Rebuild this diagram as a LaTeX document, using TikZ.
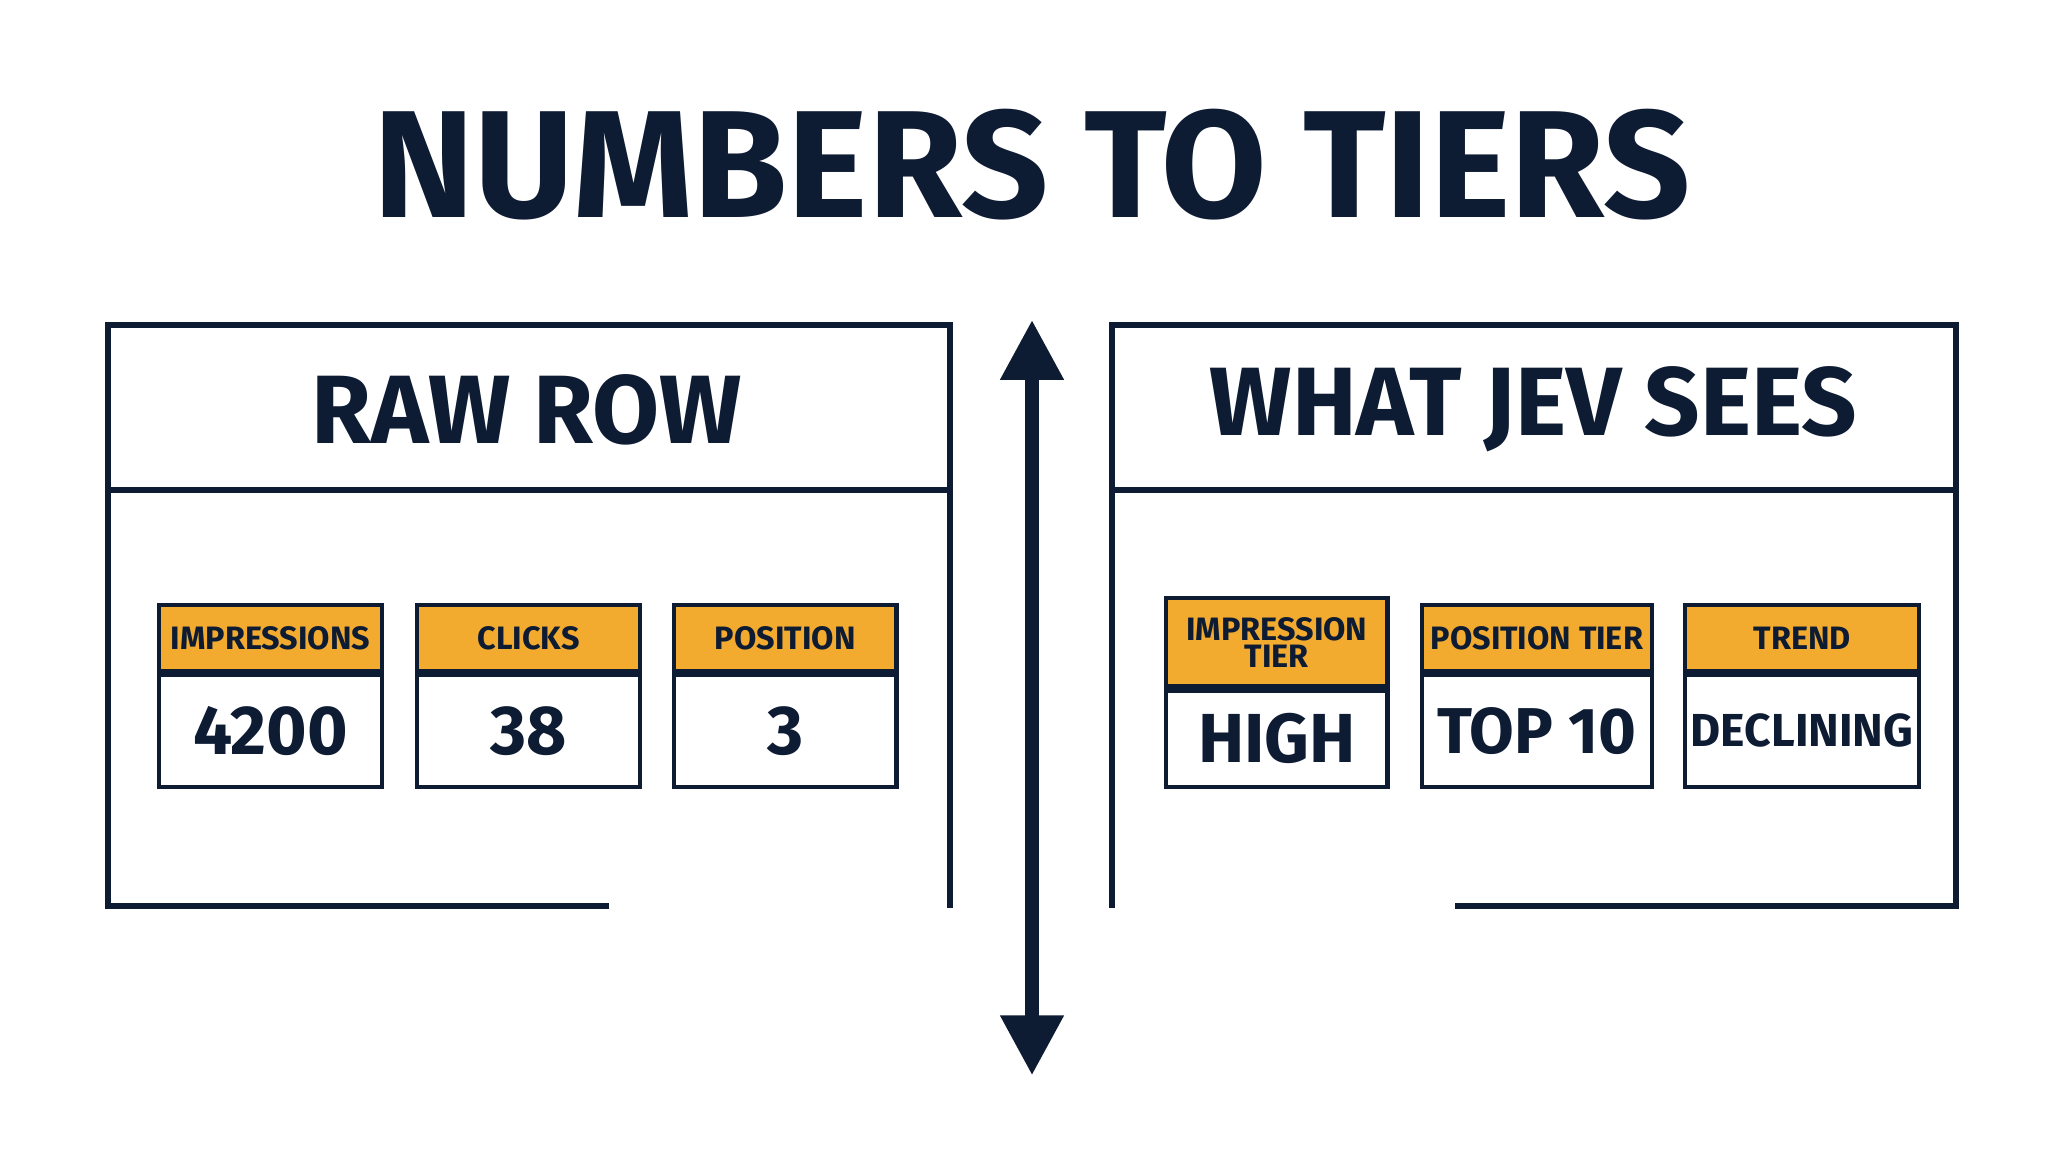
\documentclass[tikz,border=0pt]{standalone}
\usepackage{fontspec}
\setmainfont{Fira Sans}
\usetikzlibrary{arrows.meta,positioning}
\definecolor{navy}{HTML}{0D1B33}
\definecolor{amber}{HTML}{F2AB2E}
\tikzset{
  panel/.style={draw=navy, line width=1.3pt},
  hdr/.style={fill=amber, draw=navy, line width=0.9pt, anchor=north, inner sep=0pt, align=center,
    font=\fontsize{7}{7}\selectfont\bfseries, text=navy},
  val/.style={fill=white, draw=navy, line width=0.9pt, anchor=north, inner sep=0pt,
    font=\fontsize{15}{16}\selectfont\bfseries, text=navy},
}
\begin{document}
\begin{tikzpicture}[>={Triangle[length=13pt,width=13pt]}]
\useasboundingbox (0,0) rectangle (15.68,8.76);
% Titel
\node[text=navy, font=\fontsize{33}{36}\selectfont\bfseries] (title) at (7.84,7.51) {NUMBERS TO TIERS};

% Linkes Feld
\draw[panel] (4.63,1.88) -- (0.82,1.88) -- (0.82,6.29) -- (7.22,6.29) -- (7.22,1.86);
\draw[panel] (0.82,5.04) -- (7.22,5.04);
\node[text=navy, font=\fontsize{21}{24}\selectfont\bfseries] (rawhead) at (4.0,5.65) {RAW ROW};

% Rechtes Feld
\draw[panel] (8.45,1.86) -- (8.45,6.29) -- (14.86,6.29) -- (14.86,1.88) -- (11.05,1.88);
\draw[panel] (8.45,5.04) -- (14.86,5.04);
\node[text=navy, font=\fontsize{21}{24}\selectfont\bfseries] (jevhead) at (11.65,5.65) {WHAT JEV SEES};

% Pfeil
\coordinate (up) at (7.84,6.33);
\coordinate (down) at (7.84,0.59);
\draw[<->, navy, line width=3pt] (down) -- (up);

% Karten links
\node[hdr, minimum width=1.69cm, minimum height=0.5cm] (h1) at (2.055,4.18) {IMPRESSIONS};
\node[val, minimum width=1.69cm, minimum height=0.85cm] (v1) at (h1.south) {4200};
\node[hdr, minimum width=1.69cm, minimum height=0.5cm] (h2) at (4.015,4.18) {CLICKS};
\node[val, minimum width=1.69cm, minimum height=0.85cm] (v2) at (h2.south) {38};
\node[hdr, minimum width=1.69cm, minimum height=0.5cm] (h3) at (5.965,4.18) {POSITION};
\node[val, minimum width=1.69cm, minimum height=0.85cm] (v3) at (h3.south) {3};

% Karten rechts
\node[hdr, minimum width=1.68cm, minimum height=0.67cm] (h4) at (9.70,4.23) {IMPRESSION\\[-1pt]TIER};
\node[val, minimum width=1.68cm, minimum height=0.73cm] (v4) at (h4.south) {HIGH};
\node[hdr, minimum width=1.75cm, minimum height=0.5cm] (h5) at (11.675,4.18) {POSITION TIER};
\node[val, minimum width=1.75cm, minimum height=0.85cm, font=\fontsize{14}{15}\selectfont\bfseries] (v5) at (h5.south) {TOP 10};
\node[hdr, minimum width=1.78cm, minimum height=0.5cm] (h6) at (13.69,4.18) {TREND};
\node[val, minimum width=1.78cm, minimum height=0.85cm, font=\fontsize{10}{12}\selectfont\bfseries] (v6) at (h6.south) {DECLINING};
\end{tikzpicture}
\end{document}
